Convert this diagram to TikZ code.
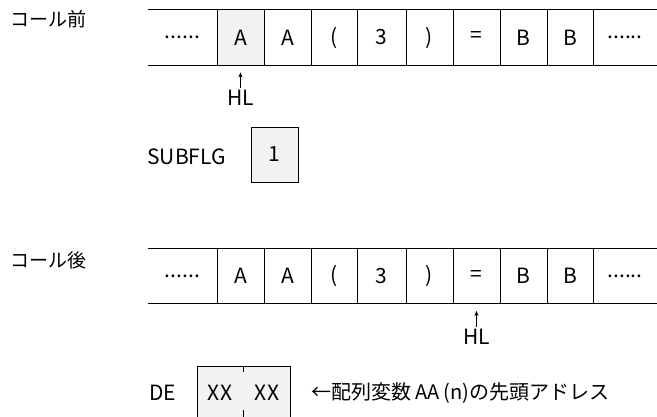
\documentclass[tikz,border=0pt]{standalone}
\usepackage{fontspec}
\setmainfont{Noto Sans CJK JP}
\usetikzlibrary{positioning, arrows.meta}

\tikzset{
  txt/.style={font=\fontsize{21}{23}\selectfont, inner sep=0pt},
  cell/.style={txt, minimum height=55pt},
  shade/.style={fill=gray!10},
  ptr/.style={-{Stealth[length=5pt, width=4pt]}, thin, shorten >=7pt, shorten <=2pt}
}

\begin{document}
\begin{tikzpicture}[x=1pt, y=-1pt, line width=0.9pt]
\useasboundingbox (0,0) rectangle (657,417);

% before the call
\node[txt, anchor=west, font=\fontsize{19}{21}\selectfont] (before) at (10,19) {コール前};
\fill[shade] (217,10) rectangle (264,65);
\foreach \n/\l/\r/\t in {1/148/217/{......}, 2/217/264/A, 3/264/311/A, 4/311/357/(,
                         5/357/406/3, 6/406/453/), 7/453/500/=, 8/500/547/B,
                         9/547/593/B, 10/593/657/{......}}
  \node[cell, minimum width={\r-\l}] (b\n) at ({(\l+\r)/2},37.5) {\t};
\draw (b1.north west) -- (b10.north east);
\draw (b1.south west) -- (b10.south east);
\foreach \n in {1,...,9}
  \draw (b\n.north east) -- (b\n.south east);
\node[txt] (hlb) at (240.5,98) {HL};
\draw[ptr] (hlb.north) -- (b2.south);

\node[txt, anchor=west] (subflg) at (147,157) {SUBFLG};
\node[cell, draw, shade, minimum width=47pt] (flag) at (274.5,154.5) {1};

% after the call
\node[txt, anchor=west, font=\fontsize{19}{21}\selectfont] (after) at (10,260) {コール後};
\foreach \n/\l/\r/\t in {1/148/217/{......}, 2/217/264/A, 3/264/311/A, 4/311/357/(,
                         5/357/406/3, 6/406/453/), 7/453/500/=, 8/500/547/B,
                         9/547/593/B, 10/593/657/{......}}
  \node[cell, minimum width={\r-\l}] (a\n) at ({(\l+\r)/2},276) {\t};
\draw (a1.north west) -- (a10.north east);
\draw (a1.south west) -- (a10.south east);
\foreach \n in {1,...,9}
  \draw (a\n.north east) -- (a\n.south east);
\node[txt] (hla) at (476.5,337) {HL};
\draw[ptr] (hla.north) -- (a7.south);

\node[txt, anchor=west] (de) at (149,393) {DE};
\fill[shade] (197,366) rectangle (290,417);
\draw (197,417) -- (197,366) -- (290,366) -- (290,417);
\draw (243,366) -- (243,372) (243,410) -- (243,417);
\node[txt] (xx1) at (220,393) {XX};
\node[txt] (xx2) at (267,393) {XX};
\node[txt, anchor=west, font=\fontsize{20}{22}\selectfont] (note) at (311,393) {←配列変数 AA\,(n)の先頭アドレス};
\end{tikzpicture}
\end{document}
